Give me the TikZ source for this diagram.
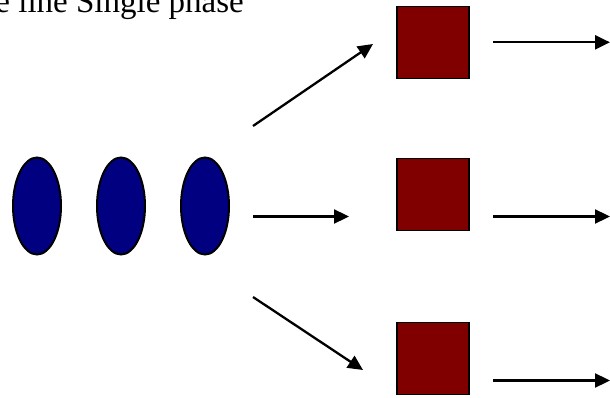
\documentclass[tikz,border=0pt]{standalone}
\usepackage{fontspec}
\setmainfont{Liberation Serif}
\usetikzlibrary{arrows.meta,shapes.geometric}
\definecolor{navyfill}{HTML}{000080}
\definecolor{maroonfill}{HTML}{800000}
\begin{document}
\begin{tikzpicture}[x=1pt,y=-1pt,
  blob/.style={ellipse,draw=black,line width=2pt,fill=navyfill,minimum width=48pt,minimum height=97pt,inner sep=0pt},
  sqbox/.style={rectangle,draw=black,line width=1.8pt,fill=maroonfill,minimum width=72pt,minimum height=72pt,inner sep=0pt},
  arr/.style={line width=2.3pt,-{Triangle[length=15pt,width=14pt]}},
  lbl/.style={font=\fontsize{33}{39}\selectfont,inner sep=0pt}]
\useasboundingbox (0,0) rectangle (610,398);
\node[lbl,anchor=base east] (title) at (244,13) {e line Single phase};
\node[blob] (e1) at (37,206) {};
\node[blob] (e2) at (121,206) {};
\node[blob] (e3) at (205,206) {};
\node[sqbox] (s1) at (433,42.5) {};
\node[sqbox] (s2) at (433,194.5) {};
\node[sqbox] (s3) at (433,358.5) {};
\coordinate (a1s) at (253,126);
\coordinate (a1e) at (373,44);
\coordinate (a2s) at (253,216.5);
\coordinate (a2e) at (349,216.5);
\coordinate (a3s) at (253,297);
\coordinate (a3e) at (363,370);
\coordinate (b1s) at (493,42.3);
\coordinate (b1e) at (610,42.3);
\coordinate (b2s) at (493,216.5);
\coordinate (b2e) at (610,216.5);
\coordinate (b3s) at (493,380.5);
\coordinate (b3e) at (610,380.5);
\draw[arr] (a1s) -- (a1e);
\draw[arr] (a2s) -- (a2e);
\draw[arr] (a3s) -- (a3e);
\draw[arr] (b1s) -- (b1e);
\draw[arr] (b2s) -- (b2e);
\draw[arr] (b3s) -- (b3e);
\end{tikzpicture}
\end{document}
